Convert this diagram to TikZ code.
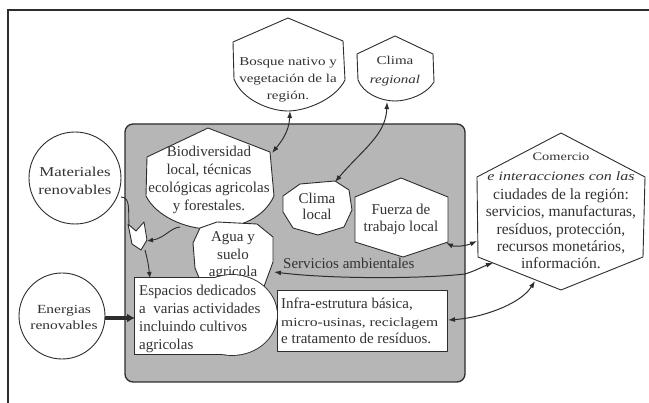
\documentclass[tikz,border=0pt]{standalone}
\usepackage{fontspec}
\setmainfont{Liberation Serif}
\newfontfamily\widefont[FakeStretch=1.25]{Liberation Serif}
\usetikzlibrary{arrows.meta}
\definecolor{ink}{RGB}{45,45,45}
\definecolor{txtc}{RGB}{50,50,50}
\definecolor{boxgray}{RGB}{182,182,182}
\begin{document}
\begin{tikzpicture}[x=1pt,y=-1pt,
  blob/.style={draw=ink, fill=white, line width=0.9pt, line join=round},
  lbl/.style={inner sep=0pt, text=txtc, align=center, font=\fontsize{15}{18}\selectfont},
  wlbl/.style={inner sep=0pt, text=txtc, align=center},
  link/.style={draw=ink, line width=1pt, {Latex[length=7pt,width=5pt]}-{Latex[length=7pt,width=5pt]}},
  onearr/.style={draw=ink, line width=0.9pt, -{Latex[length=6pt,width=5pt]}},
  thickarr/.style={draw=ink, line width=3.5pt, -{Latex[length=8pt,width=9pt]}}]
\useasboundingbox (0,0) rectangle (649,403);
\fill[white] (0,0) rectangle (649,403);
% frame
\draw[ink, line width=2.2pt] (649,10) -- (8,10) -- (8,403);
% gray box
\draw[fill=boxgray, draw=ink, line width=1.3pt, rounded corners=8pt] (125,124) rectangle (465,382);
% Biodiversidad
\path[blob] (208,128) -- (270,152) -- (274,196) .. controls (262,222) and (232,229) .. (210,229) .. controls (185,229) and (156,216) .. (146,196) -- (147,157) -- cycle;
\node[lbl] (biod) at (209,180) {Biodiversidad\\local, técnicas\\ecológicas agricolas\\y forestales.};
% Agua y suelo
\path[blob] (193,243) -- (200,228) -- (217,222) -- (257,224) -- (273,237) -- (273,262) -- (262,292) -- (205,292) -- (195,268) -- cycle;
\node[lbl, font=\fontsize{15}{17.5}\selectfont] (agua) at (233,256) {Agua y\\suelo\\agricola};
% Clima local
\path[blob] (283,196) -- (300,184) -- (335,181) -- (349,190) -- (352,210) -- (344,227) -- (318,235) -- (293,228) -- (283,212) -- cycle;
\node[lbl, font=\fontsize{15}{16}\selectfont] (clocal) at (317,206) {Clima\\local};
% Fuerza de trabajo
\path[blob] (401,178) -- (448,197) -- (448,242) -- (403,257) -- (355,242) -- (355,197) -- cycle;
\node[lbl, font=\fontsize{15}{17}\selectfont] (fuerza) at (401,219) {Fuerza de\\trabajo local};
% Espacios (rectangle + bulge)
\draw[ink, line width=1.8pt] (135,278) rectangle (232,354);
\draw[ink, line width=1.8pt] (232,315) ellipse [x radius=45pt, y radius=40pt];
\fill[white] (135,278) rectangle (232,354);
\fill[white] (232,315) ellipse [x radius=45pt, y radius=40pt];
\node[lbl, anchor=west, align=left] (esp) at (139,319) {Espacios dedicados\\a\ \ varias actividades\\incluindo cultivos\\agricolas};
% Infra-estrutura
\path[blob] (277,290) rectangle (447,351);
\node[lbl, anchor=west, align=left, font=\fontsize{15}{17.5}\selectfont] (infra) at (281,321) {Infra-estrutura básica,\\{\widefont\fontsize{12.5}{17.5}\selectfont micro-usinas, reciclagem}\\e tratamento de resíduos.};
% white chevron
\path[blob] (128,224) -- (136,231) -- (144,222) -- (147,240) -- (141,250) -- (132,244) -- cycle;
\coordinate (chevN) at (129,224);
\coordinate (chevS) at (145,250);
\coordinate (chevE) at (147,241);
% Servicios ambientales
\node[lbl, anchor=base west] (serv) at (283,269) {Servicios ambientales};
% Bosque nativo
\path[blob] (288,18) -- (343,41) -- (345,80) .. controls (335,100) and (305,111) .. (288,111) .. controls (270,111) and (242,100) .. (234,79) -- (233,42) -- cycle;
\node[wlbl, font=\widefont\fontsize{12}{17}\selectfont] (bosque) at (288,80) {Bosque nativo y\\vegetación de la\\región.};
% Clima regional
\path[blob] (395,36) -- (433,54) -- (434,82) .. controls (426,95) and (407,101) .. (395,101) .. controls (380,101) and (363,93) .. (358,80) -- (357,54) -- cycle;
\node[wlbl, font=\widefont\fontsize{12}{19}\selectfont] (cregional) at (395,71) {Clima\\\textit{regional}};
% Materiales renovables
\path[blob] (75,178) circle[radius=46pt];
\node[wlbl, font=\widefont\fontsize{13.5}{18}\selectfont] (mat) at (75,181) {Materiales\\renovables};
% Energias renovables
\path[blob] (62,316) circle[radius=43pt];
\node[wlbl, font=\widefont\fontsize{12.4}{16}\selectfont] (ener) at (64,317) {Energias\\renovables};
% Comercio hexagon
\path[blob] (561,133) -- (645,177) -- (643,257) -- (561,290) -- (478,257) -- (477,177) -- cycle;
\node[wlbl, anchor=base, font=\widefont\fontsize{11.5}{13}\selectfont] (com1) at (561,161) {Comercio};
\node[wlbl, anchor=base, font=\widefont\fontsize{12.8}{14}\selectfont\itshape] (com2) at (561,181) {e interacciones con las};
\node[wlbl, anchor=base, font=\fontsize{15.5}{17}\selectfont] (com3) at (561,200) {ciudades de la región:};
\node[wlbl, anchor=base, font=\fontsize{15.5}{17}\selectfont] (com4) at (561,217) {servicios, manufacturas,};
\node[wlbl, anchor=base, font=\fontsize{15.5}{17}\selectfont] (com5) at (561,234.5) {resíduos, protección,};
\node[wlbl, anchor=base, font=\fontsize{15.5}{17}\selectfont] (com6) at (561,251.5) {recursos monetários,};
\node[wlbl, anchor=base, font=\fontsize{15.5}{17}\selectfont] (com7) at (561,269) {información.};
% connector end points
\coordinate (bqS) at (290,111);
\coordinate (bdNE) at (272,153);
\coordinate (crS) at (387,102);
\coordinate (clN) at (335,182);
\coordinate (fzE) at (446,243);
\coordinate (cmW) at (477,241);
\coordinate (agE) at (274,272);
\coordinate (gbE) at (465,274);
\coordinate (cmSW) at (493,263);
\coordinate (infE) at (448,320);
\coordinate (cmB) at (535,281);
\coordinate (enE) at (105,318);
\coordinate (espW) at (135,318);
\coordinate (matE) at (121,197);
\coordinate (espN) at (150,278);
\coordinate (bdSW) at (180,227);
% connectors
\draw[link] (bqS) .. controls (289,132) and (281,142) .. (bdNE);
\draw[link] (crS) .. controls (386,135) and (362,150) .. (clN);
\draw[link] (fzE) .. controls (455,247) and (466,246) .. (cmW);
\draw[link] (agE) .. controls (330,279) and (420,279) .. (gbE) .. controls (475,271) and (484,266) .. (cmSW);
\draw[link] (infE) .. controls (480,318) and (520,305) .. (cmB);
\draw[thickarr] (enE) -- (espW);
\draw[ink, line width=0.9pt] (matE) .. controls (131,197) and (128,212) .. (chevN);
\draw[onearr] (chevS) .. controls (148,262) .. (espN);
\draw[onearr] (bdSW) .. controls (170,228) and (165,238) .. (chevE);
\end{tikzpicture}
\end{document}
